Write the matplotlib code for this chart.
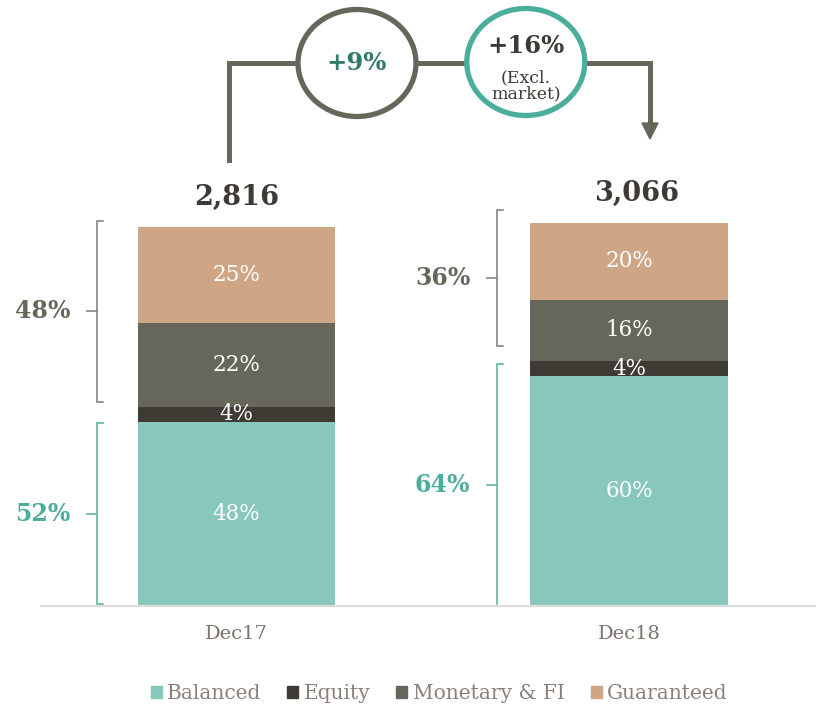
import matplotlib.pyplot as plt
import matplotlib.patches as mpatches
import numpy as np

plt.rcParams['font.family'] = ['DejaVu Serif']

# data
periods = ['Dec17', 'Dec18']
totals = ['2,816', '3,066']
series = ['Balanced', 'Equity', 'Monetary & FI', 'Guaranteed']
balanced = [48, 60]
equity = [4, 4]
monetary = [22, 16]
guaranteed = [25, 20]
lower_share = ['52%', '64%']
upper_share = ['48%', '36%']
# bracket spans (% of bar)
lower_span = [(0.5, 47.8), (0, 63.2)]
upper_span = [(53.3, 100.5), (67.9, 103.4)]
growth = '+9%'
growth_excl = '+16%'

colors = ['#88c7bb', '#3e3a34', '#66665b', '#cea686']
teal = '#4bad9b'
grey = '#66665b'

fig = plt.figure(figsize=(8.16, 7.06), dpi=100)
ax = fig.add_axes([0, 100/706, 1, 606/706])
ux = 392.5   # px per x unit
uy = 3.83    # px per y unit
ax.set_xlim(-236.5/ux, (816-236.5)/ux)
ax.set_ylim(0, 606/uy)

ind = np.arange(len(periods))
width = 0.502
bottom = np.zeros(len(periods))
for vals, col in zip([balanced, equity, monetary, guaranteed], colors):
    vals = np.array(vals, dtype=float)
    ax.bar(ind, vals, width, bottom=bottom, color=col)
    for i in ind:
        ax.text(i, bottom[i] + vals[i]/2, '%d%%' % vals[i], ha='center', va='center',
                color='white', fontsize=15.5)
    bottom += vals

for i in ind:
    ax.text(i + (0.02 if i == 1 else 0), bottom[i] + 7.6, totals[i], ha='center', va='center',
            fontsize=19.5, fontweight='bold', color='#3d3a35')

# brackets
bx_off = [-0.355, -0.336]
for i in ind:
    bx = i + bx_off[i]
    for span, lab, col, tcol in [(lower_span[i], lower_share[i], '#5db5a5', teal),
                                 (upper_span[i], upper_share[i], '#85857d', grey)]:
        y0, y1 = span
        ym = (y0 + y1) / 2
        ax.plot([bx + 0.014, bx, bx, bx + 0.014], [y0, y0, y1, y1], color=col, lw=1.2,
                clip_on=False, solid_joinstyle='miter')
        ax.plot([bx - 0.025, bx], [ym, ym], color=col, lw=1.2, clip_on=False)
        ax.text(bx - 0.068, ym, lab, ha='right', va='center', fontsize=17,
                fontweight='bold', color=tcol)

# growth connector
yc = (606 - 63) / uy
x_left = -0.019
x_right = 1.0535
c1 = 0.307
c2 = 0.737
ew = 118 / ux
eh = 107 / uy
ax.plot([x_left, x_left, x_right, x_right], [(606-160)/uy, yc, yc, (606-124)/uy],
        color=grey, lw=3.6, clip_on=False, solid_joinstyle='miter', zorder=2)
ax.add_patch(mpatches.Polygon([[x_right - 8/ux, (606-123)/uy], [x_right + 8/ux, (606-123)/uy],
                               [x_right, (606-139)/uy]], closed=True, color=grey,
                              clip_on=False, zorder=2))
ax.add_patch(mpatches.Ellipse((c1, yc), ew, eh, facecolor='white', edgecolor=grey, lw=3.8,
                              clip_on=False, zorder=3))
ax.add_patch(mpatches.Ellipse((c2, (606-62)/uy), ew, eh, facecolor='white', edgecolor=teal,
                              lw=3.8, clip_on=False, zorder=3))
ax.text(c1, yc, growth, ha='center', va='center', fontsize=17.5, fontweight='bold',
        color='#2f7a6b', zorder=4)
ax.text(c2, (606-46)/uy, growth_excl, ha='center', va='center', fontsize=17.5,
        fontweight='bold', color='#3d3a35', zorder=4)
ax.text(c2, (606-86)/uy, '(Excl.\nmarket)', ha='center', va='center', fontsize=12.5,
        color='#3d3a35', zorder=4, linespacing=0.95)

# axes styling
for s in ['top', 'right', 'left']:
    ax.spines[s].set_visible(False)
ax.spines['bottom'].set_color('#dcdcdc')
ax.spines['bottom'].set_linewidth(1.6)
ax.spines['bottom'].set_bounds(-195.5/ux, (816-236.5)/ux)
ax.set_yticks([])
ax.set_xticks(ind)
ax.set_xticklabels(periods, fontsize=14, color='#7a726c')
ax.tick_params(axis='x', length=0, pad=14)

handles = [mpatches.Patch(color=c) for c in colors]
leg = fig.legend(handles, series, loc='center', bbox_to_anchor=(0.538, 0.018), ncol=4,
                 frameon=False, fontsize=14.5, handlelength=0.55, handleheight=0.55,
                 handletextpad=0.25, columnspacing=1.3)
for t in leg.get_texts():
    t.set_color('#8a8079')

fig.savefig('out.png', dpi=100)
